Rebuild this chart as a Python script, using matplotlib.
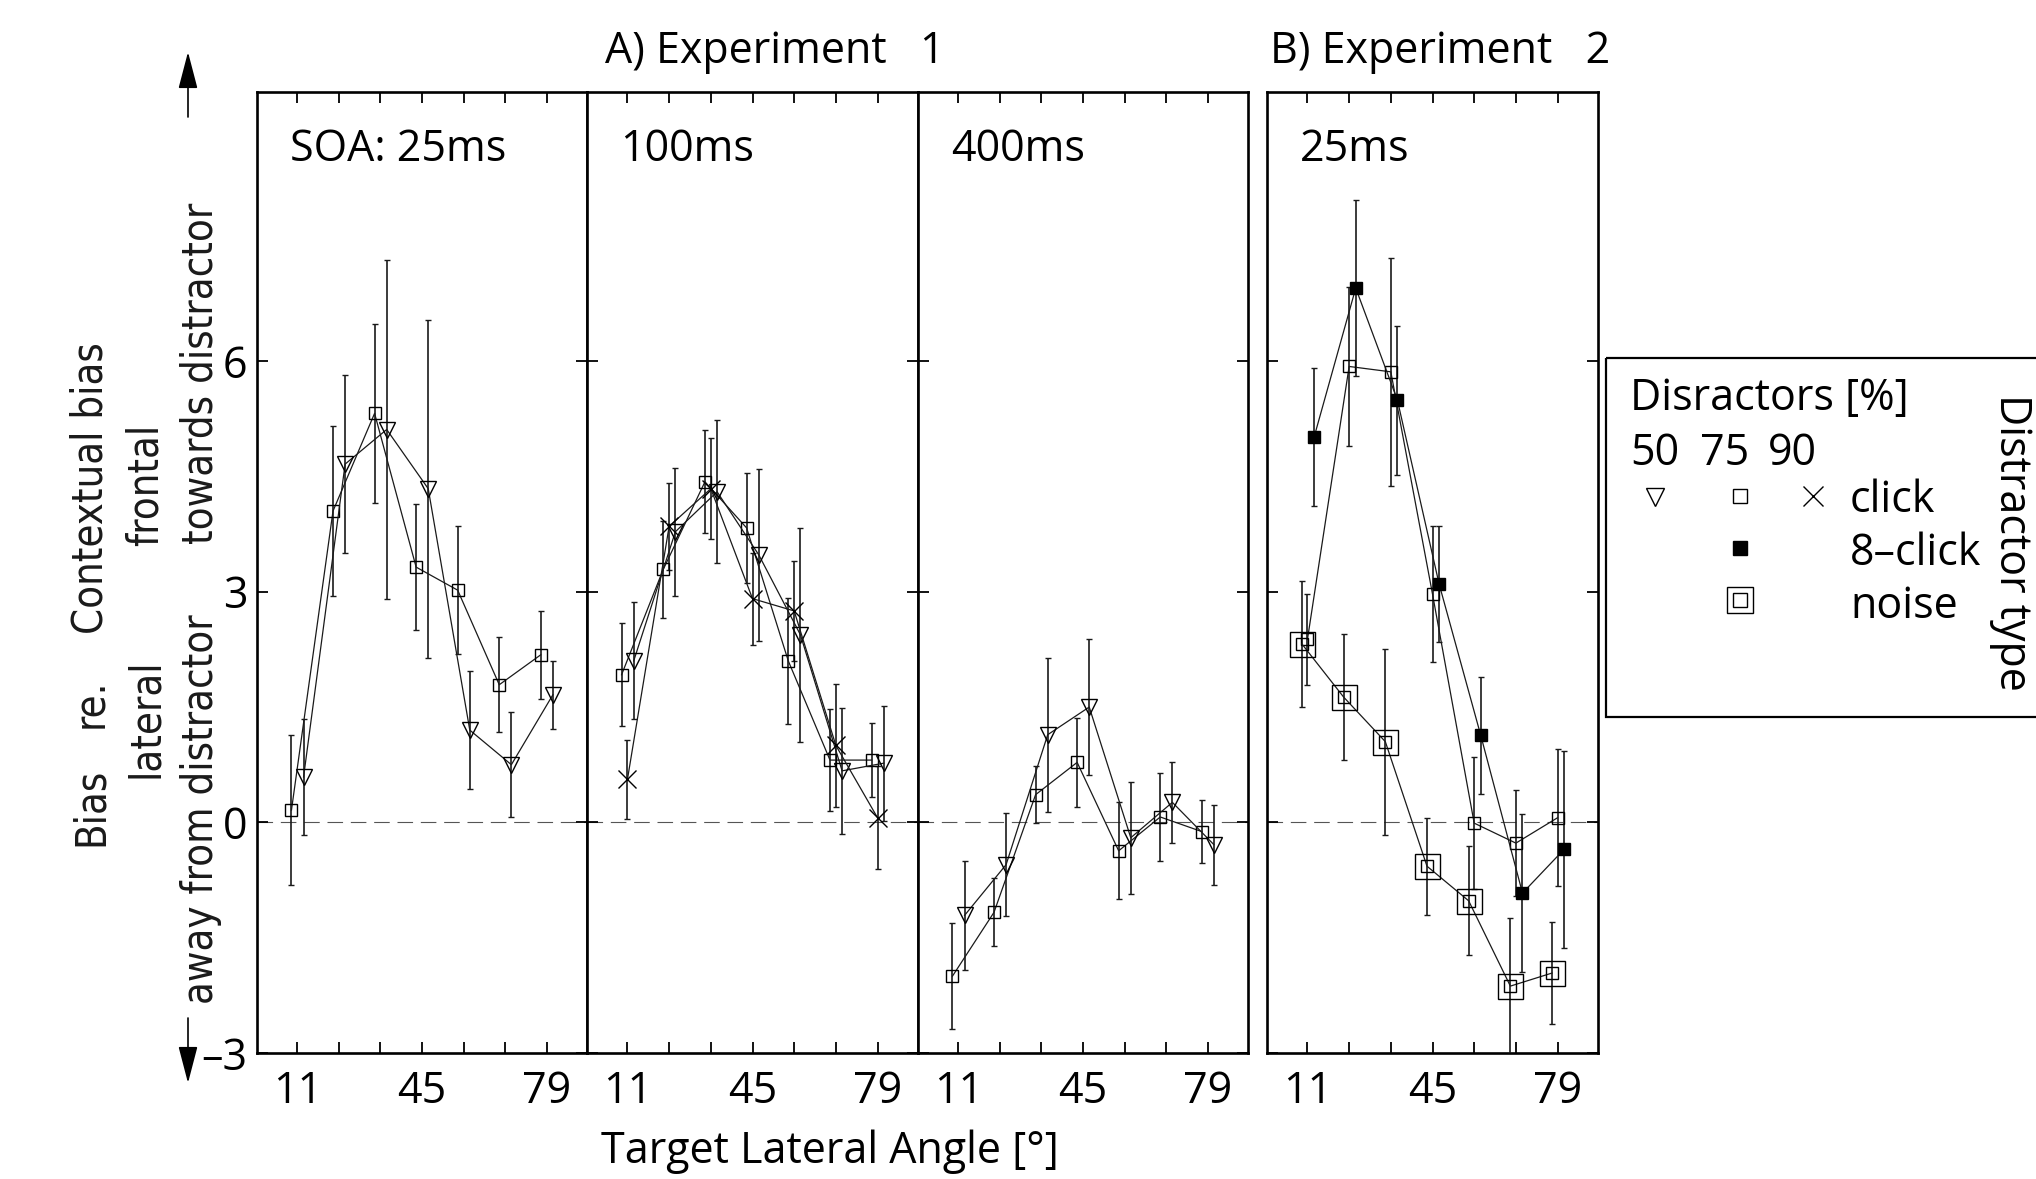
import numpy as np
import matplotlib
matplotlib.use('Agg')
import matplotlib.pyplot as plt
from matplotlib import font_manager
from matplotlib.patches import Rectangle, FancyArrowPatch

plt.rcParams['font.family'] = ['Open Sans', 'DejaVu Sans']

# target lateral angles (deg) and tick labels
angles = [11, 22.33, 33.67, 45, 56.33, 67.67, 79]
angle_labels = ['11', '', '', '45', '', '', '79']
bias_ticks = [-3, 0, 3, 6]
bias_labels = ['\u20133', '0', '3', '6']

# Experiment 1, SOA 25 ms
e1_25_p50 = [0.59, 4.66, 5.11, 4.34, 1.20, 0.75, 1.66]
e1_25_p50_err = [0.75, 1.16, 2.20, 2.20, 0.77, 0.68, 0.44]
e1_25_p75 = [0.16, 4.05, 5.32, 3.32, 3.02, 1.79, 2.18]
e1_25_p75_err = [0.98, 1.10, 1.16, 0.82, 0.83, 0.62, 0.57]

# Experiment 1, SOA 100 ms
e1_100_p50 = [2.10, 3.78, 4.30, 3.48, 2.44, 0.67, 0.77]
e1_100_p50_err = [0.76, 0.83, 0.93, 1.12, 1.39, 0.82, 0.75]
e1_100_p75 = [1.92, 3.29, 4.43, 3.83, 2.10, 0.81, 0.81]
e1_100_p75_err = [0.67, 0.63, 0.67, 0.72, 0.82, 0.66, 0.48]
e1_100_p90 = [0.56, 3.85, 4.34, 2.91, 2.75, 1.00, 0.06]
e1_100_p90_err = [0.51, 0.57, 0.66, 0.60, 0.65, 0.80, 0.67]

# Experiment 1, SOA 400 ms
e1_400_p50 = [-1.21, -0.55, 1.14, 1.50, -0.20, 0.26, -0.29]
e1_400_p50_err = [0.71, 0.67, 1.00, 0.89, 0.73, 0.53, 0.52]
e1_400_p75 = [-2.00, -1.17, 0.36, 0.78, -0.37, 0.07, -0.12]
e1_400_p75_err = [0.69, 0.44, 0.37, 0.58, 0.63, 0.57, 0.41]

# Experiment 2, SOA 25 ms, 75 % distractors
e2_click = [2.38, 5.93, 5.86, 2.97, -0.01, -0.27, 0.06]
e2_click_err = [0.59, 1.04, 1.48, 0.88, 0.86, 0.69, 0.89]
e2_8click = [5.01, 6.95, 5.49, 3.10, 1.13, -0.92, -0.35]
e2_8click_err = [0.90, 1.15, 0.97, 0.76, 0.76, 1.03, 1.28]
e2_noise = [2.32, 1.63, 1.05, -0.57, -1.02, -2.13, -1.96]
e2_noise_err = [0.82, 0.82, 1.21, 0.63, 0.71, 0.88, 0.66]

W, H = 2036, 1179
FS = 31
INK = '#1a1a1a'

# condensed face for the y label, if one is installed
ttf = font_manager.fontManager.ttflist
if any(f.name == 'Liberation Sans Narrow' for f in ttf):
    narrow = dict(family='Liberation Sans Narrow', fontsize=32)
elif any(f.name == 'DejaVu Sans' and f.stretch == 'condensed' for f in ttf):
    narrow = dict(family='DejaVu Sans', stretch='condensed', fontsize=30)
else:
    narrow = dict(family='Open Sans', fontsize=27)

fig = plt.figure(figsize=(W / 100, H / 100), dpi=100)


def px_axes(x0, x1, y0, y1):
    return fig.add_axes([x0 / W, 1 - y1 / H, (x1 - x0) / W, (y1 - y0) / H])


def series(ax, y, err, offset, marker, ms, mfc='none'):
    x = np.array(angles) + offset
    ax.errorbar(x, y, yerr=err, fmt='-', marker=marker, ms=ms, mfc=mfc, mec='k',
                mew=1.0, color=INK, lw=0.9, ecolor=INK, elinewidth=1.2,
                capsize=2, capthick=1.2, zorder=3)
    return x


panels = [(257, 587), (587, 918), (918, 1248), (1267, 1598)]
axes = [px_axes(x0, x1, 92, 1053) for x0, x1 in panels]

for i, ax in enumerate(axes):
    ax.set_xlim(0, 90)
    ax.set_ylim(-3, 9.5)
    ax.set_xticks(angles)
    ax.set_xticklabels(angle_labels)
    ax.set_yticks(bias_ticks)
    ax.set_yticklabels(bias_labels)
    ax.tick_params(direction='in', top=True, right=True, length=8, width=1.3,
                   labelsize=FS, colors='k')
    ax.tick_params(axis='x', pad=12)
    ax.tick_params(axis='y', pad=7, labelleft=(i == 0))
    for s in ax.spines.values():
        s.set_linewidth(1.9)
    ax.axhline(0, color='#555555', lw=0.8, dashes=(14, 7), zorder=1)

d_lo, d_hi = -1.6, 1.7

ax = axes[0]
series(ax, e1_25_p75, e1_25_p75_err, d_lo, 's', 9)
series(ax, e1_25_p50, e1_25_p50_err, d_hi, 'v', 12)
ax.text(0.1, 0.928, 'SOA: 25ms', transform=ax.transAxes, fontsize=FS, va='baseline')

ax = axes[1]
series(ax, e1_100_p75, e1_100_p75_err, d_lo, 's', 9)
series(ax, e1_100_p50, e1_100_p50_err, d_hi, 'v', 12)
series(ax, e1_100_p90, e1_100_p90_err, 0, 'x', 13)
ax.text(0.1, 0.928, '100ms', transform=ax.transAxes, fontsize=FS, va='baseline')

ax = axes[2]
series(ax, e1_400_p75, e1_400_p75_err, d_lo, 's', 9)
series(ax, e1_400_p50, e1_400_p50_err, d_hi, 'v', 12)
ax.text(0.1, 0.928, '400ms', transform=ax.transAxes, fontsize=FS, va='baseline')

ax = axes[3]
series(ax, e2_click, e2_click_err, 0, 's', 9)
series(ax, e2_8click, e2_8click_err, 1.8, 's', 9, mfc='k')
xn = series(ax, e2_noise, e2_noise_err, -1.5, 's', 18)
ax.plot(xn, e2_noise, 's', ms=9, mfc='none', mec='k', mew=1.0, zorder=4)
ax.text(0.1, 0.928, '25ms', transform=ax.transAxes, fontsize=FS, va='baseline')

# overlay in pixel coordinates for titles, y label, arrows and legend
ov = fig.add_axes([0, 0, 1, 1])
ov.set_xlim(0, W)
ov.set_ylim(H, 0)
ov.axis('off')

ov.text(605, 63, 'A) Experiment   1', fontsize=FS, va='baseline')
ov.text(1270, 63, 'B) Experiment   2', fontsize=FS, va='baseline')
ov.text(830, 1163, 'Target Lateral Angle [\u00b0]', fontsize=FS, ha='center', va='baseline')

ylabel_parts = [
    (103, 807, 'Bias'), (103, 703, 're.'), (103, 488, 'Contextual bias'),
    (158, 718, 'lateral'), (158, 485, 'frontal'),
    (213, 809, 'away from distractor'), (213, 373, 'towards distractor'),
]
for x, y, s in ylabel_parts:
    ov.text(x, y, s, rotation=90, rotation_mode='anchor', ha='center',
            va='baseline', color=INK, **narrow)

for start, end in [((188, 117), (188, 52)), ((188, 1018), (188, 1083))]:
    ov.add_patch(FancyArrowPatch(start, end, arrowstyle='-|>,head_length=23,head_width=6',
                                 mutation_scale=1, lw=1.2, color='k',
                                 shrinkA=0, shrinkB=0))

# legend
ov.add_patch(Rectangle((1606, 358), 440, 359, fill=False, lw=1.6, ec='k'))
ov.text(1630, 410, 'Disractors [%]', fontsize=FS, va='baseline')
for x, s in [(1630, '50'), (1700, '75'), (1768, '90')]:
    ov.text(x, 465, s, fontsize=FS, va='baseline')
ov.plot([1655], [497], 'v', ms=13, mfc='none', mec='k', mew=1.0)
ov.plot([1740], [496], 's', ms=10, mfc='none', mec='k', mew=1.0)
ov.plot([1813], [496], 'x', ms=14, mec='k', mew=1.0)
ov.plot([1740], [548], 's', ms=10, mfc='k', mec='k', mew=1.0)
ov.plot([1740], [600], 's', ms=19, mfc='none', mec='k', mew=1.0)
ov.plot([1740], [600], 's', ms=10, mfc='none', mec='k', mew=1.0)
ov.text(1850, 512, 'click', fontsize=FS, va='baseline')
ov.text(1850, 565, '8\u2013click', fontsize=FS, va='baseline')
ov.text(1850, 618, 'noise', fontsize=FS, va='baseline')
ov.text(2000, 542, 'Distractor type', fontsize=FS, rotation=-90, rotation_mode='anchor',
        ha='center', va='baseline')

fig.savefig('out.png', dpi=100)
